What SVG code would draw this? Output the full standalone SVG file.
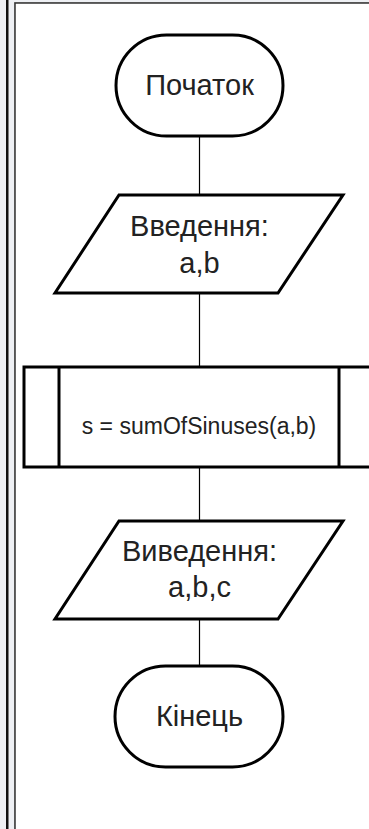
<svg xmlns="http://www.w3.org/2000/svg" width="369" height="829" viewBox="0 0 369 829">
<style>
.shape{fill:#fff;stroke:#000;stroke-width:3}
.conn{stroke:#000;stroke-width:1.2;fill:none}
.t{font-family:"Liberation Sans",Arial,sans-serif;font-size:29px;fill:#222;text-anchor:middle}
.code{font-size:23px}
</style>
<rect x="0" y="0" width="369" height="829" fill="#eef0f4"/>
<rect x="6" y="0" width="2.5" height="829" fill="#111"/>
<rect x="14" y="2" width="360" height="830" fill="#bbb"/>
<rect x="15" y="3" width="360" height="830" fill="#fff" stroke="#333" stroke-width="1.5"/>
<g id="connectors">
<line class="conn" x1="199.5" y1="136" x2="199.5" y2="195"/>
<line class="conn" x1="199.5" y1="293" x2="199.5" y2="367"/>
<line class="conn" x1="199.5" y1="467" x2="199.5" y2="521"/>
<line class="conn" x1="199.5" y1="619" x2="199.5" y2="666"/>
</g>
<g id="start">
<rect class="shape" x="116" y="35" width="167" height="101" rx="50.5"/>
<text class="t" x="199.5" y="95">Початок</text>
</g>
<g id="input">
<polygon class="shape" points="119,195 343,195 278,293 55,293"/>
<text class="t" x="199.5" y="236">Введення:</text>
<text class="t" x="199.5" y="273">a,b</text>
</g>
<g id="process">
<rect class="shape" x="24" y="367" width="350" height="100"/>
<line class="shape" x1="59" y1="367" x2="59" y2="467"/>
<line class="shape" x1="339" y1="367" x2="339" y2="467"/>
<text class="t code" x="199" y="434">s = sumOfSinuses(a,b)</text>
</g>
<g id="output">
<polygon class="shape" points="119,521 343,521 278,619 55,619"/>
<text class="t" x="199.5" y="561">Виведення:</text>
<text class="t" x="199.5" y="597">a,b,c</text>
</g>
<g id="end">
<rect class="shape" x="115" y="666" width="168" height="101" rx="50.5"/>
<text class="t" x="199.5" y="726">Кінець</text>
</g>
</svg>
